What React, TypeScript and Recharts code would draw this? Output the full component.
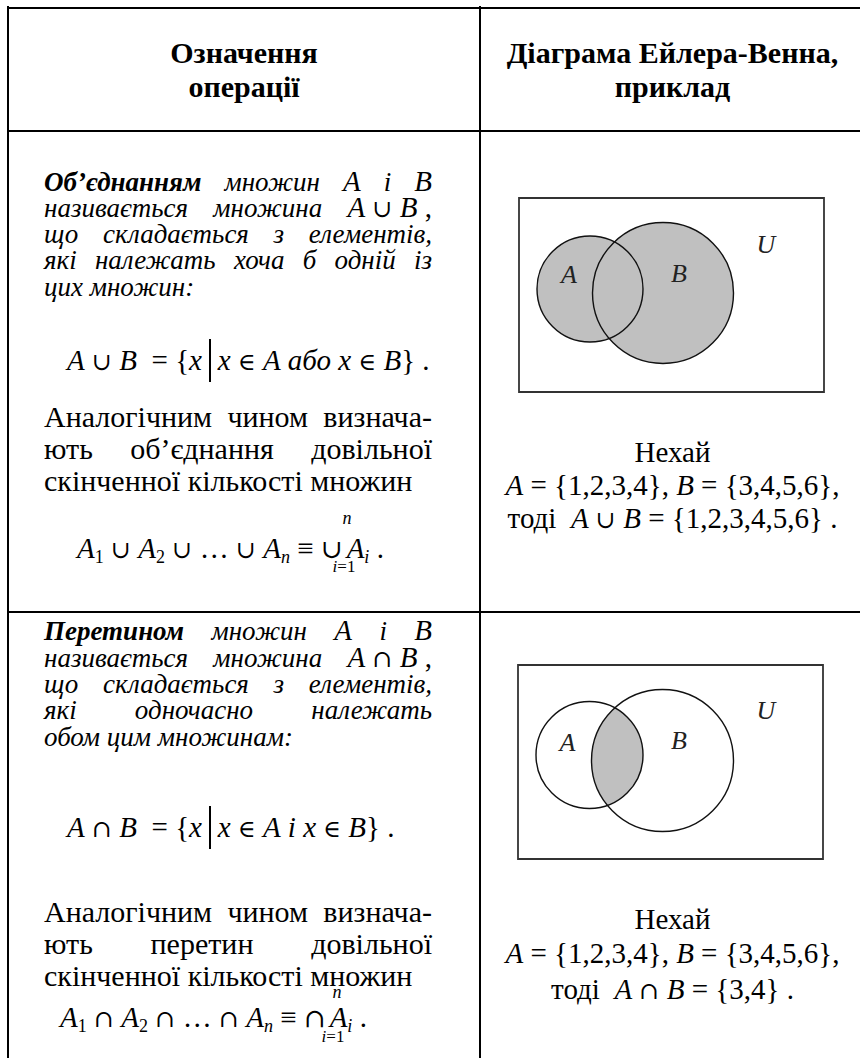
import React from 'react';
import { ScatterChart, Scatter, XAxis, YAxis, ReferenceArea } from 'recharts';

const FONT = "'Liberation Serif', 'Times New Roman', 'DejaVu Serif', serif";
const OPFONT = "'DejaVu Serif', 'Liberation Serif', serif";

// ---- data ----
const headerLeft = ['Означення', 'операції'];
const headerRight = ['Діаграма Ейлера-Венна,', 'приклад'];

const setA = [1, 2, 3, 4];
const setB = [3, 4, 5, 6];
const unionAB = [1, 2, 3, 4, 5, 6];
const interAB = [3, 4];

const VENN_W = 305;
const VENN_H = 194;
const vennX = [0, VENN_W];
const vennY = [0, VENN_H];

const unionCircles = [
  { set: 'A', x: 71, y: 91, r: 53 },
  { set: 'B', x: 144, y: 95, r: 70.5 },
];
const unionLabels = [
  { text: 'A', x: 50, y: 76 },
  { text: 'B', x: 160, y: 75 },
  { text: 'U', x: 247, y: 46 },
];
const interCircles = [
  { set: 'A', x: 71.5, y: 90, r: 53.5 },
  { set: 'B', x: 144.5, y: 95.5, r: 71 },
];
const interLabels = [
  { text: 'A', x: 49.5, y: 77.5 },
  { text: 'B', x: 161, y: 75 },
  { text: 'U', x: 248, y: 45 },
];

const fmt = (s: number[]) => `{${s.join(',')}}`;

// ---- helpers ----
function Ln(props: any) {
  const { bl, left, width, size, big, lh, align = 'left', bold, italic, children } = props;
  const M = big ?? size;
  const L = lh ?? Math.ceil(M * 1.2);
  const top = bl - (L / 2 + 0.3375 * M);
  return (
    <div
      style={{
        position: 'absolute',
        left,
        top,
        width,
        height: L,
        fontSize: size,
        lineHeight: `${L}px`,
        textAlign: align,
        textAlignLast: align,
        fontWeight: bold ? 'bold' : 'normal',
        fontStyle: italic ? 'italic' : 'normal',
        fontFamily: FONT,
        color: '#000',
        whiteSpace: align === 'justify' ? 'normal' : 'pre',
      }}
    >
      {children}
    </div>
  );
}

const IT = 27; // italic text size
const MS = 29; // inline math size

const M = (p: any) => (
  <span style={{ fontSize: p.s ?? MS, fontStyle: 'italic' }}>{p.children}</span>
);
const R = (p: any) => (
  <span style={{ fontSize: p.s ?? MS, fontStyle: 'normal' }}>{p.children}</span>
);
const Op = (p: any) => (
  <span style={{ fontFamily: OPFONT, fontSize: p.s ?? 24, fontStyle: 'normal' }}>{p.children}</span>
);
const Sub = (p: any) => (
  <span style={{ fontSize: 18, verticalAlign: '-5px', fontStyle: p.it ? 'italic' : 'normal' }}>{p.children}</span>
);
const Bar = () => (
  <span
    style={{
      display: 'inline-block',
      width: 1.3,
      height: 43,
      background: '#000',
      verticalAlign: '-12px',
    }}
  />
);
const Gap = (p: any) => <span style={{ display: 'inline-block', width: p.w }} />;

function VennChart(props: any) {
  const { id, circles, labels, mode, left, top } = props;
  const pxPerUnit = VENN_W / (vennX[1] - vennX[0]);
  const fillShape = (p: any) => (
    <circle cx={p.cx} cy={p.cy} r={p.payload.r * pxPerUnit} fill="#c0c0c0" stroke="none" />
  );
  const outlineShape = (p: any) => (
    <circle cx={p.cx} cy={p.cy} r={p.payload.r * pxPerUnit} fill="none" stroke="#111" strokeWidth={1.4} />
  );
  const clipShape = (p: any) => (
    <clipPath id={`clip-${id}`}>
      <circle cx={p.cx} cy={p.cy} r={p.payload.r * pxPerUnit} />
    </clipPath>
  );
  const clippedFill = (p: any) => (
    <circle
      cx={p.cx}
      cy={p.cy}
      r={p.payload.r * pxPerUnit}
      fill="#c0c0c0"
      stroke="none"
      clipPath={`url(#clip-${id})`}
    />
  );
  const labelShape = (p: any) => (
    <text
      x={p.cx}
      y={p.cy}
      textAnchor="middle"
      dominantBaseline="central"
      fontStyle="italic"
      fontSize={26}
      fontFamily={FONT}
      fill="#222"
    >
      {p.payload.text}
    </text>
  );
  return (
    <div style={{ position: 'absolute', left, top }}>
      <ScatterChart width={VENN_W + 2} height={VENN_H + 2} margin={{ top: 1, right: 1, bottom: 1, left: 1 }}>
        <XAxis type="number" dataKey="x" domain={vennX} hide />
        <YAxis type="number" dataKey="y" domain={vennY} reversed hide />
        <ReferenceArea
          x1={vennX[0]}
          x2={vennX[1]}
          y1={vennY[0]}
          y2={vennY[1]}
          fill="none"
          stroke="#333"
          strokeWidth={1.8}
          ifOverflow="visible"
        />
        {mode === 'union' && (
          <Scatter data={circles} shape={fillShape} isAnimationActive={false} />
        )}
        {mode === 'inter' && (
          <Scatter data={[circles[0]]} shape={clipShape} isAnimationActive={false} />
        )}
        {mode === 'inter' && (
          <Scatter data={[circles[1]]} shape={clippedFill} isAnimationActive={false} />
        )}
        <Scatter data={circles} shape={outlineShape} isAnimationActive={false} />
        <Scatter data={labels} shape={labelShape} isAnimationActive={false} />
      </ScatterChart>
    </div>
  );
}

const HLine = (p: any) => (
  <div style={{ position: 'absolute', left: 7, top: p.y, width: 880, height: 2.2, background: '#000' }} />
);
const VLine = (p: any) => (
  <div style={{ position: 'absolute', left: p.x, top: 6, width: 2.2, height: 1100, background: '#000' }} />
);

const TL = 44;
const TW = 388;
const RS = 30; // regular text size

export default function App() {
  return (
    <div
      style={{
        position: 'absolute',
        left: 0,
        top: 0,
        width: 860,
        height: 1058,
        overflow: 'hidden',
        background: '#fff',
        fontFamily: FONT,
      }}
    >
      <HLine y={6.5} />
      <HLine y={129.5} />
      <HLine y={610.5} />
      <VLine x={7} />
      <VLine x={478.8} />

      {/* header */}
      <Ln bl={63} left={8} width={472} size={30} align="center" bold>{headerLeft[0]}</Ln>
      <Ln bl={97} left={8} width={472} size={30} align="center" bold>{headerLeft[1]}</Ln>
      <Ln bl={63} left={480} width={385} size={30} align="center" bold>{headerRight[0]}</Ln>
      <Ln bl={97} left={480} width={385} size={30} align="center" bold>{headerRight[1]}</Ln>

      {/* row 1 : union */}
      <Ln bl={191} left={TL} width={TW} size={IT} big={MS} align="justify" italic>
        <b>Об’єднанням</b> множин <M>A</M> і <M>B</M>
      </Ln>
      <Ln bl={217} left={TL} width={TW} size={IT} big={MS} align="justify" italic>
        називається множина{' '}
        <span style={{ display: 'inline-block', whiteSpace: 'pre' }}>
          <M>A</M><R> </R><Op>∪</Op><R> </R><M>B</M><R> ,</R>
        </span>
      </Ln>
      <Ln bl={244} left={TL} width={TW} size={IT} align="justify" italic>що складається з елементів,</Ln>
      <Ln bl={270} left={TL} width={TW} size={IT} align="justify" italic>які належать хоча б одній із</Ln>
      <Ln bl={297} left={TL} width={TW} size={IT} italic>цих множин:</Ln>

      <Ln bl={370} left={67} size={29} lh={64}>
        <i>A</i> <Op>∪</Op> <i>B</i>{'  '}= {'{'}<i>x</i> <Bar /> <i>x</i> <Op>∈</Op> <i>A</i> <i>або</i> <i>x</i> <Op>∈</Op> <i>B</i>{'}'} .
      </Ln>

      <Ln bl={427} left={TL} width={TW} size={RS} align="justify">Аналогічним чином визнача-</Ln>
      <Ln bl={459} left={TL} width={TW} size={RS} align="justify">ють об’єднання довільної</Ln>
      <Ln bl={491} left={TL} width={TW} size={RS}>скінченної кількості множин</Ln>

      <Ln bl={558} left={77} size={29}>
        <i>A</i><Sub>1</Sub> <Op>∪</Op> <i>A</i><Sub>2</Sub> <Op>∪</Op> … <Op>∪</Op> <i>A</i><Sub it>n</Sub> ≡ <Op s={26}>∪</Op><Gap w={4} /><i>A</i><Sub it>i</Sub> .
      </Ln>
      <Ln bl={524} left={327} width={40} size={18} align="center" italic>n</Ln>
      <Ln bl={572} left={324} width={40} size={17} align="center"><i>i</i>=1</Ln>

      <VennChart id="union" mode="union" circles={unionCircles} labels={unionLabels} left={518} top={197} />

      <Ln bl={462} left={480} width={385} size={29} align="center">Нехай</Ln>
      <Ln bl={495} left={480} width={385} size={29} align="center">
        <i>A</i> = {fmt(setA)}, <i>B</i> = {fmt(setB)},
      </Ln>
      <Ln bl={528} left={480} width={385} size={29} align="center">
        тоді  <i>A</i> <Op>∪</Op> <i>B</i> = {fmt(unionAB)} .
      </Ln>

      {/* row 2 : intersection */}
      <Ln bl={640} left={TL} width={TW} size={IT} big={MS} align="justify" italic>
        <b>Перетином</b> множин <M>A</M> і <M>B</M>
      </Ln>
      <Ln bl={667} left={TL} width={TW} size={IT} big={MS} align="justify" italic>
        називається множина{' '}
        <span style={{ display: 'inline-block', whiteSpace: 'pre' }}>
          <M>A</M><R> </R><Op>∩</Op><R> </R><M>B</M><R> ,</R>
        </span>
      </Ln>
      <Ln bl={694} left={TL} width={TW} size={IT} align="justify" italic>що складається з елементів,</Ln>
      <Ln bl={720} left={TL} width={TW} size={IT} align="justify" italic>які одночасно належать</Ln>
      <Ln bl={747} left={TL} width={TW} size={IT} italic>обом цим множинам:</Ln>

      <Ln bl={837} left={67} size={29} lh={64}>
        <i>A</i> <Op>∩</Op> <i>B</i>{'  '}= {'{'}<i>x</i> <Bar /> <i>x</i> <Op>∈</Op> <i>A</i> <i>і</i> <i>x</i> <Op>∈</Op> <i>B</i>{'}'} .
      </Ln>

      <Ln bl={922} left={TL} width={TW} size={RS} align="justify">Аналогічним чином визнача-</Ln>
      <Ln bl={954} left={TL} width={TW} size={RS} align="justify">ють перетин довільної</Ln>
      <Ln bl={986} left={TL} width={TW} size={RS}>скінченної кількості множин</Ln>

      <Ln bl={1027} left={60} size={29}>
        <i>A</i><Sub>1</Sub> <Op>∩</Op> <i>A</i><Sub>2</Sub> <Op>∩</Op> … <Op>∩</Op> <i>A</i><Sub it>n</Sub> ≡ <Op s={26}>∩</Op><Gap w={4} /><i>A</i><Sub it>i</Sub> .
      </Ln>
      <Ln bl={998} left={317} width={40} size={18} align="center" italic>n</Ln>
      <Ln bl={1042} left={313} width={40} size={17} align="center"><i>i</i>=1</Ln>

      <VennChart id="inter" mode="inter" circles={interCircles} labels={interLabels} left={517} top={664} />

      <Ln bl={929} left={480} width={385} size={29} align="center">Нехай</Ln>
      <Ln bl={963} left={480} width={385} size={29} align="center">
        <i>A</i> = {fmt(setA)}, <i>B</i> = {fmt(setB)},
      </Ln>
      <Ln bl={999} left={480} width={385} size={29} align="center">
        тоді  <i>A</i> <Op>∩</Op> <i>B</i> = {fmt(interAB)} .
      </Ln>
    </div>
  );
}
